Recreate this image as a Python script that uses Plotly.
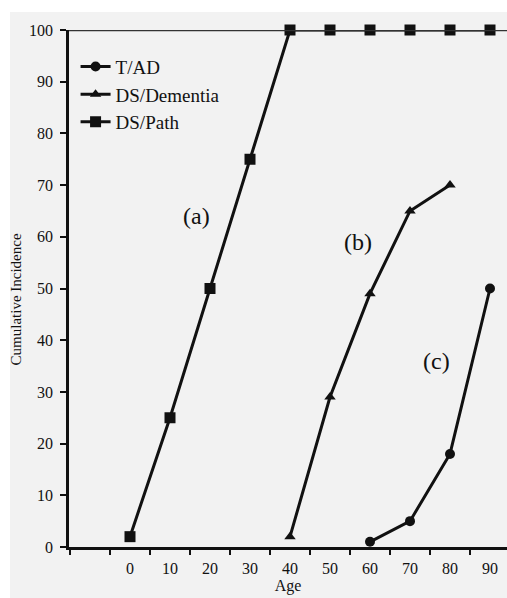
import plotly.graph_objects as go

ages_tad = [60, 70, 80, 90]
tad = [1, 5, 18, 50]
ages_dem = [40, 50, 60, 70, 80]
dem = [2, 29, 49, 65, 70]
ages_path = [0, 10, 20, 30, 40, 50, 60, 70, 80, 90]
path = [2, 25, 50, 75, 100, 100, 100, 100, 100, 100]
x_ticks = [0, 10, 20, 30, 40, 50, 60, 70, 80, 90]
y_ticks = [0, 10, 20, 30, 40, 50, 60, 70, 80, 90, 100]
labels = [("(a)", 16.5, 64), ("(b)", 57, 59), ("(c)", 76.7, 36)]

serif = "Liberation Serif"
ink = "#111111"

fig = go.Figure()
fig.add_trace(go.Scatter(x=ages_path, y=path, name="DS/Path", mode="lines+markers",
                         line=dict(color=ink, width=3),
                         marker=dict(symbol="square", size=11, color=ink), cliponaxis=False))
fig.add_trace(go.Scatter(x=ages_dem, y=dem, name="DS/Dementia", mode="lines+markers",
                         line=dict(color=ink, width=3),
                         marker=dict(symbol="triangle-up", size=10, color=ink), cliponaxis=False))
fig.add_trace(go.Scatter(x=ages_tad, y=tad, name="T/AD", mode="lines+markers",
                         line=dict(color=ink, width=3),
                         marker=dict(symbol="circle", size=10, color=ink), cliponaxis=False))

for t, x, y in labels:
    fig.add_annotation(x=x, y=y, text=t, showarrow=False,
                       font=dict(family=serif, size=24, color=ink))

fig.add_annotation(xref="paper", yref="paper", x=-0.122, y=0.478, text="Cumulative Incidence",
                   textangle=-90, showarrow=False, xanchor="center", yanchor="middle",
                   font=dict(family=serif, size=15, color=ink))

# white outer strips (left and top) around the grey page
fig.add_shape(type="rect", xref="paper", yref="paper", x0=-69/438, x1=-59/438,
              y0=-51/517, y1=(598-51)/517, fillcolor="white", line=dict(width=0), layer="above")
fig.add_shape(type="rect", xref="paper", yref="paper", x0=-69/438, x1=1,
              y0=(598-51-12)/517, y1=(598-51)/517, fillcolor="white", line=dict(width=0), layer="above")
fig.add_shape(type="line", xref="paper", yref="y", x0=0, x1=1, y0=100, y1=100,
              line=dict(color="#333333", width=2.5))

fig.update_layout(
    width=507, height=598,
    margin=dict(l=69, r=0, t=30, b=51),
    paper_bgcolor="#f2f2f2", plot_bgcolor="rgba(0,0,0,0)",
    font=dict(family=serif, size=15, color=ink),
    showlegend=True,
    legend=dict(x=0.015, y=0.966, xanchor="left", yanchor="top", bgcolor="rgba(0,0,0,0)",
                font=dict(family=serif, size=19, color=ink), traceorder="reversed"),
    xaxis=dict(range=[-15.25, 94.25], tickmode="array", tickvals=x_ticks,
               ticktext=[str(v) for v in x_ticks], ticks="", showgrid=False, zeroline=False,
               showline=True, linecolor=ink, linewidth=2.5, ticklabelstandoff=5,
               minor=dict(ticks="outside", tick0=-5, dtick=10, ticklen=5, tickwidth=2, tickcolor=ink),
               title=dict(text="Age", font=dict(family=serif, size=16), standoff=4),
               tickfont=dict(family=serif, size=16)),
    yaxis=dict(range=[0, 100], tickmode="array", tickvals=y_ticks, ticks="outside",
               ticklen=6, tickwidth=2, tickcolor=ink, showgrid=False, zeroline=False,
               showline=True, linecolor=ink, linewidth=2.5, ticklabelstandoff=4,
               tickfont=dict(family=serif, size=16)),
)
fig.write_html("out.html")
